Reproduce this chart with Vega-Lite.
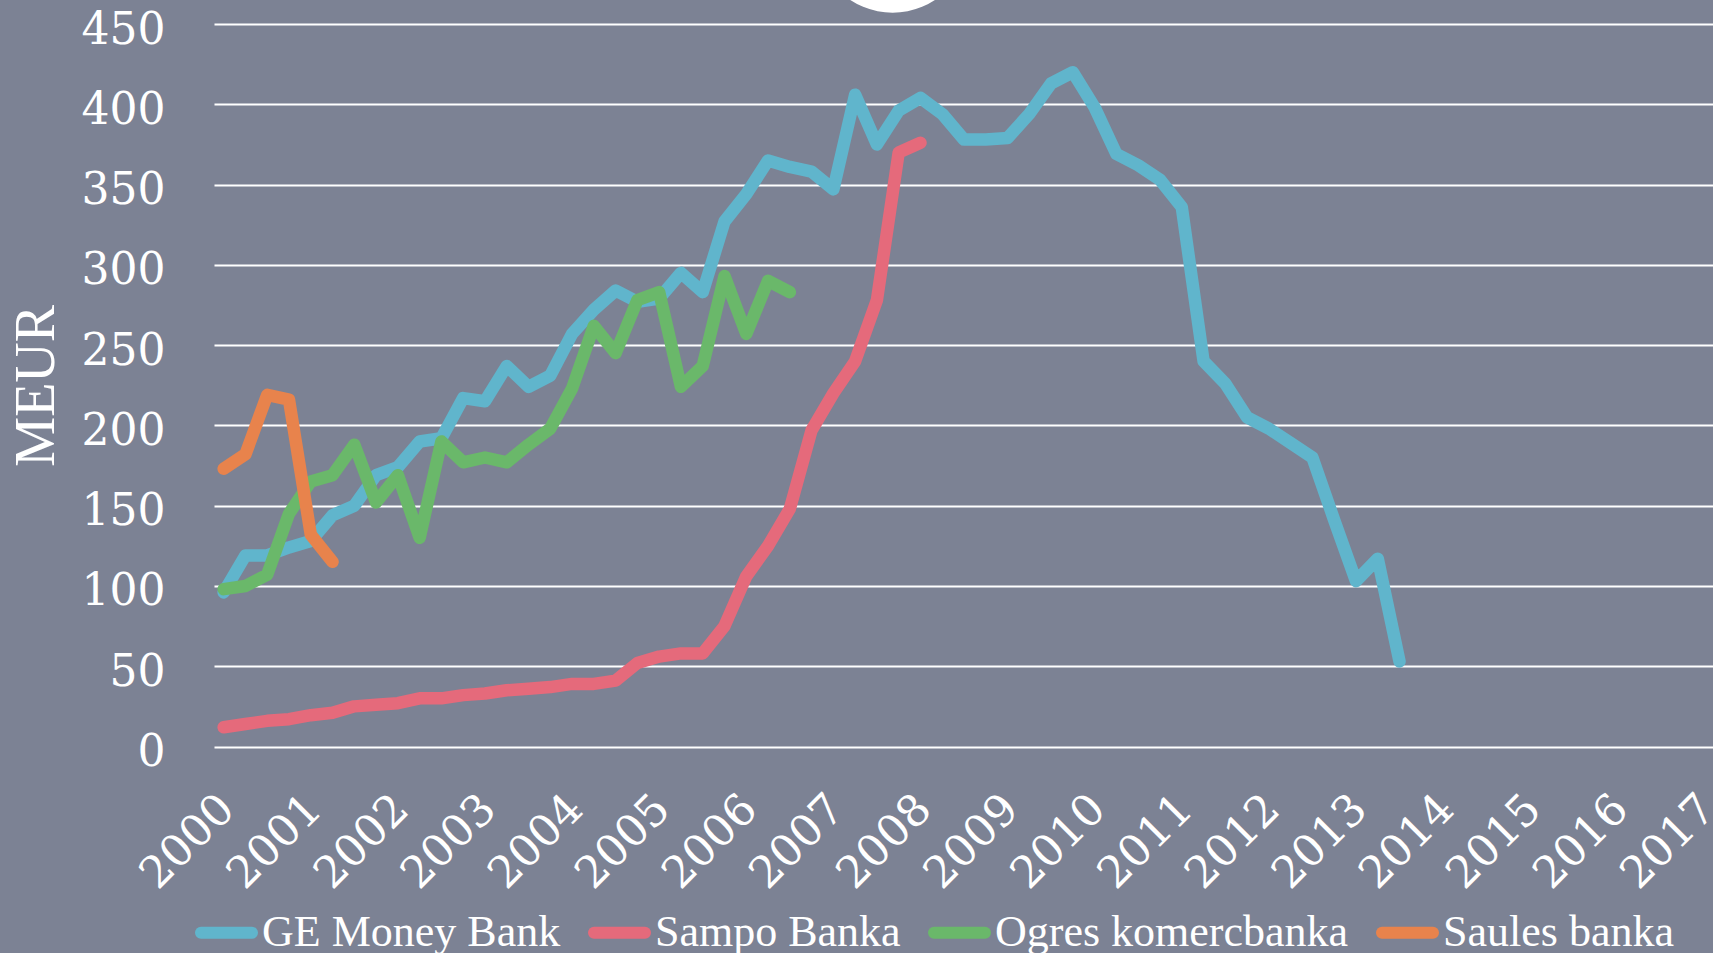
{
  "$schema": "https://vega.github.io/schema/vega-lite/v6.json",
  "width": 1499,
  "height": 722.5,
  "autosize": {"type": "none"},
  "padding": {"left": 214, "top": 24, "right": 0, "bottom": 206.5},
  "background": "#7c8294",
  "config": {
    "view": {"stroke": null},
    "font": "Liberation Serif"
  },
  "datasets": {
    "series": [
      {"bank": "GE Money Bank", "t": 2000, "v": 96},
      {"bank": "GE Money Bank", "t": 2000.25, "v": 119},
      {"bank": "GE Money Bank", "t": 2000.5, "v": 119},
      {"bank": "GE Money Bank", "t": 2000.75, "v": 124},
      {"bank": "GE Money Bank", "t": 2001, "v": 128},
      {"bank": "GE Money Bank", "t": 2001.25, "v": 144},
      {"bank": "GE Money Bank", "t": 2001.5, "v": 150},
      {"bank": "GE Money Bank", "t": 2001.75, "v": 169},
      {"bank": "GE Money Bank", "t": 2002, "v": 174},
      {"bank": "GE Money Bank", "t": 2002.25, "v": 190},
      {"bank": "GE Money Bank", "t": 2002.5, "v": 192},
      {"bank": "GE Money Bank", "t": 2002.75, "v": 217},
      {"bank": "GE Money Bank", "t": 2003, "v": 215},
      {"bank": "GE Money Bank", "t": 2003.25, "v": 237},
      {"bank": "GE Money Bank", "t": 2003.5, "v": 224},
      {"bank": "GE Money Bank", "t": 2003.75, "v": 231},
      {"bank": "GE Money Bank", "t": 2004, "v": 257},
      {"bank": "GE Money Bank", "t": 2004.25, "v": 272},
      {"bank": "GE Money Bank", "t": 2004.5, "v": 284},
      {"bank": "GE Money Bank", "t": 2004.75, "v": 277},
      {"bank": "GE Money Bank", "t": 2005, "v": 279},
      {"bank": "GE Money Bank", "t": 2005.25, "v": 295},
      {"bank": "GE Money Bank", "t": 2005.5, "v": 283},
      {"bank": "GE Money Bank", "t": 2005.75, "v": 327},
      {"bank": "GE Money Bank", "t": 2006, "v": 344},
      {"bank": "GE Money Bank", "t": 2006.25, "v": 365},
      {"bank": "GE Money Bank", "t": 2006.5, "v": 361},
      {"bank": "GE Money Bank", "t": 2006.75, "v": 358},
      {"bank": "GE Money Bank", "t": 2007, "v": 347},
      {"bank": "GE Money Bank", "t": 2007.25, "v": 406},
      {"bank": "GE Money Bank", "t": 2007.5, "v": 375},
      {"bank": "GE Money Bank", "t": 2007.75, "v": 396},
      {"bank": "GE Money Bank", "t": 2008, "v": 404},
      {"bank": "GE Money Bank", "t": 2008.25, "v": 394},
      {"bank": "GE Money Bank", "t": 2008.5, "v": 378},
      {"bank": "GE Money Bank", "t": 2008.75, "v": 378},
      {"bank": "GE Money Bank", "t": 2009, "v": 379},
      {"bank": "GE Money Bank", "t": 2009.25, "v": 394},
      {"bank": "GE Money Bank", "t": 2009.5, "v": 413},
      {"bank": "GE Money Bank", "t": 2009.75, "v": 420},
      {"bank": "GE Money Bank", "t": 2010, "v": 398},
      {"bank": "GE Money Bank", "t": 2010.25, "v": 369},
      {"bank": "GE Money Bank", "t": 2010.5, "v": 362},
      {"bank": "GE Money Bank", "t": 2010.75, "v": 353},
      {"bank": "GE Money Bank", "t": 2011, "v": 336},
      {"bank": "GE Money Bank", "t": 2011.25, "v": 240},
      {"bank": "GE Money Bank", "t": 2011.5, "v": 226},
      {"bank": "GE Money Bank", "t": 2011.75, "v": 205},
      {"bank": "GE Money Bank", "t": 2012, "v": 198},
      {"bank": "GE Money Bank", "t": 2012.25, "v": 189},
      {"bank": "GE Money Bank", "t": 2012.5, "v": 180},
      {"bank": "GE Money Bank", "t": 2012.75, "v": 141},
      {"bank": "GE Money Bank", "t": 2013, "v": 103},
      {"bank": "GE Money Bank", "t": 2013.25, "v": 117},
      {"bank": "GE Money Bank", "t": 2013.5, "v": 53},
      {"bank": "Sampo Banka", "t": 2000, "v": 12},
      {"bank": "Sampo Banka", "t": 2000.25, "v": 14},
      {"bank": "Sampo Banka", "t": 2000.5, "v": 16},
      {"bank": "Sampo Banka", "t": 2000.75, "v": 17},
      {"bank": "Sampo Banka", "t": 2001, "v": 19.5},
      {"bank": "Sampo Banka", "t": 2001.25, "v": 21},
      {"bank": "Sampo Banka", "t": 2001.5, "v": 25},
      {"bank": "Sampo Banka", "t": 2001.75, "v": 26},
      {"bank": "Sampo Banka", "t": 2002, "v": 27},
      {"bank": "Sampo Banka", "t": 2002.25, "v": 30},
      {"bank": "Sampo Banka", "t": 2002.5, "v": 30},
      {"bank": "Sampo Banka", "t": 2002.75, "v": 32},
      {"bank": "Sampo Banka", "t": 2003, "v": 33},
      {"bank": "Sampo Banka", "t": 2003.25, "v": 35},
      {"bank": "Sampo Banka", "t": 2003.5, "v": 36},
      {"bank": "Sampo Banka", "t": 2003.75, "v": 37},
      {"bank": "Sampo Banka", "t": 2004, "v": 39},
      {"bank": "Sampo Banka", "t": 2004.25, "v": 39},
      {"bank": "Sampo Banka", "t": 2004.5, "v": 41},
      {"bank": "Sampo Banka", "t": 2004.75, "v": 52},
      {"bank": "Sampo Banka", "t": 2005, "v": 56},
      {"bank": "Sampo Banka", "t": 2005.25, "v": 58},
      {"bank": "Sampo Banka", "t": 2005.5, "v": 58},
      {"bank": "Sampo Banka", "t": 2005.75, "v": 75},
      {"bank": "Sampo Banka", "t": 2006, "v": 106},
      {"bank": "Sampo Banka", "t": 2006.25, "v": 125},
      {"bank": "Sampo Banka", "t": 2006.5, "v": 148},
      {"bank": "Sampo Banka", "t": 2006.75, "v": 197},
      {"bank": "Sampo Banka", "t": 2007, "v": 220},
      {"bank": "Sampo Banka", "t": 2007.25, "v": 240},
      {"bank": "Sampo Banka", "t": 2007.5, "v": 278},
      {"bank": "Sampo Banka", "t": 2007.75, "v": 370},
      {"bank": "Sampo Banka", "t": 2008, "v": 376},
      {"bank": "Ogres komercbanka", "t": 2000, "v": 98},
      {"bank": "Ogres komercbanka", "t": 2000.25, "v": 100},
      {"bank": "Ogres komercbanka", "t": 2000.5, "v": 107},
      {"bank": "Ogres komercbanka", "t": 2000.75, "v": 145},
      {"bank": "Ogres komercbanka", "t": 2001, "v": 165},
      {"bank": "Ogres komercbanka", "t": 2001.25, "v": 169},
      {"bank": "Ogres komercbanka", "t": 2001.5, "v": 188},
      {"bank": "Ogres komercbanka", "t": 2001.75, "v": 152},
      {"bank": "Ogres komercbanka", "t": 2002, "v": 169},
      {"bank": "Ogres komercbanka", "t": 2002.25, "v": 130},
      {"bank": "Ogres komercbanka", "t": 2002.5, "v": 190},
      {"bank": "Ogres komercbanka", "t": 2002.75, "v": 177},
      {"bank": "Ogres komercbanka", "t": 2003, "v": 180},
      {"bank": "Ogres komercbanka", "t": 2003.25, "v": 177},
      {"bank": "Ogres komercbanka", "t": 2003.5, "v": 188},
      {"bank": "Ogres komercbanka", "t": 2003.75, "v": 198},
      {"bank": "Ogres komercbanka", "t": 2004, "v": 223},
      {"bank": "Ogres komercbanka", "t": 2004.25, "v": 262},
      {"bank": "Ogres komercbanka", "t": 2004.5, "v": 245},
      {"bank": "Ogres komercbanka", "t": 2004.75, "v": 278},
      {"bank": "Ogres komercbanka", "t": 2005, "v": 283},
      {"bank": "Ogres komercbanka", "t": 2005.25, "v": 224},
      {"bank": "Ogres komercbanka", "t": 2005.5, "v": 237},
      {"bank": "Ogres komercbanka", "t": 2005.75, "v": 293},
      {"bank": "Ogres komercbanka", "t": 2006, "v": 257},
      {"bank": "Ogres komercbanka", "t": 2006.25, "v": 290},
      {"bank": "Ogres komercbanka", "t": 2006.5, "v": 283},
      {"bank": "Saules banka", "t": 2000, "v": 173},
      {"bank": "Saules banka", "t": 2000.25, "v": 182},
      {"bank": "Saules banka", "t": 2000.5, "v": 219},
      {"bank": "Saules banka", "t": 2000.75, "v": 216},
      {"bank": "Saules banka", "t": 2001, "v": 132},
      {"bank": "Saules banka", "t": 2001.25, "v": 115}
    ],
    "badge": [
      {"t": 2007.68, "v": 505}
    ]
  },
  "layer": [
    {
      "data": {"name": "series"},
      "mark": {"type": "line", "strokeWidth": 12.5, "strokeCap": "round", "strokeJoin": "round"},
      "encoding": {
        "x": {
          "field": "t",
          "type": "quantitative",
          "scale": {"domain": [1999.889, 2017.099], "nice": false, "zero": false},
          "axis": {
            "title": null,
            "values": [2000, 2001, 2002, 2003, 2004, 2005, 2006, 2007, 2008, 2009, 2010, 2011, 2012, 2013, 2014, 2015, 2016, 2017],
            "format": "d",
            "labelAngle": -45,
            "labelAlign": "right",
            "labelBaseline": "top",
            "labelOffset": -12,
            "labelPadding": 40,
            "labelFont": "DejaVu Serif",
            "labelFontSize": 44,
            "labelColor": "white",
            "labelOverlap": false,
            "labelFlush": false,
            "ticks": false,
            "domain": false,
            "grid": false
          }
        },
        "y": {
          "field": "v",
          "type": "quantitative",
          "scale": {"domain": [0, 450], "nice": false},
          "axis": {
            "title": "MEUR",
            "titleFont": "Liberation Serif",
            "titleFontSize": 56,
            "titleFontWeight": "normal",
            "titleColor": "white",
            "titlePadding": 16,
            "values": [0, 50, 100, 150, 200, 250, 300, 350, 400, 450],
            "labelFont": "DejaVu Serif",
            "labelFontSize": 44,
            "labelColor": "white",
            "labelBaseline": "alphabetic",
            "labelOffset": 19,
            "labelPadding": 49,
            "labelOverlap": false,
            "labelFlush": false,
            "ticks": false,
            "domain": false,
            "grid": true,
            "gridColor": "white",
            "gridWidth": 2,
            "gridOpacity": 1
          }
        },
        "color": {
          "field": "bank",
          "type": "nominal",
          "scale": {
            "domain": ["GE Money Bank", "Sampo Banka", "Ogres komercbanka", "Saules banka"],
            "range": ["#60b5cc", "#e56a7b", "#6ab86a", "#e8834c"]
          },
          "legend": {
            "title": null,
            "orient": "none",
            "legendX": -19,
            "legendY": 877,
            "direction": "horizontal",
            "symbolType": "stroke",
            "symbolSize": 2601,
            "symbolStrokeWidth": 12,
            "labelFont": "Liberation Serif",
            "labelFontSize": 44,
            "labelColor": "white",
            "labelLimit": 0,
            "labelOffset": 4,
            "columnPadding": 9,
            "padding": 0,
            "encode": {"symbols": {"update": {"strokeCap": {"value": "round"}}}}
          }
        }
      }
    },
    {
      "data": {"name": "badge"},
      "mark": {"type": "point", "shape": "circle", "filled": true, "color": "white", "opacity": 1, "size": 23716, "clip": false},
      "encoding": {
        "x": {"field": "t", "type": "quantitative"},
        "y": {"field": "v", "type": "quantitative"}
      }
    }
  ]
}
